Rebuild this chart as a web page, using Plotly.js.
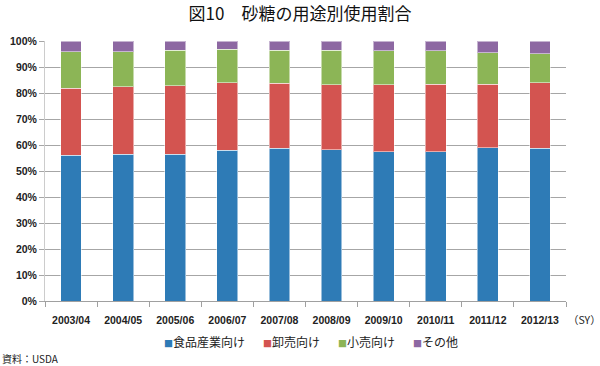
<!DOCTYPE html>
<html>
<head>
<meta charset="utf-8">
<script src="https://cdn.plot.ly/plotly-3.0.1.min.js"></script>
<style>html,body{margin:0;padding:0;background:#fff;}#chart{width:600px;height:366px;}</style>
</head>
<body>
<div id="chart"></div>
<script>
const categories = ["2003/04","2004/05","2005/06","2006/07","2007/08","2008/09","2009/10","2010/11","2011/12","2012/13"];
const seriesNames = ["食品産業向け","卸売向け","小売向け","その他"];
const food      = [56.0, 56.4, 56.4, 57.9, 58.7, 58.1, 57.4, 57.4, 59.0, 58.8];
const wholesale = [25.8, 26.0, 26.4, 26.1, 25.0, 25.0, 25.7, 25.9, 24.3, 25.2];
const retail    = [14.0, 13.4, 13.7, 12.9, 12.8, 13.3, 13.1, 13.0, 12.2, 11.1];
const other     = [4.2, 4.2, 3.5, 3.1, 3.5, 3.6, 3.8, 3.7, 4.5, 4.9];
const yTicks = [0,10,20,30,40,50,60,70,80,90,100];

const colors = ["#2e7bb6","#d35450","#8cb556","#8d68a2"];
const values = [food, wholesale, retail, other];
const jp = '"Noto Sans CJK JP", "Noto Sans", sans-serif';
const lat = '"Liberation Sans", Arial, sans-serif';

const traces = values.map((v,i)=>({
  type:'bar', x:categories, y:v, name:seriesNames[i],
  marker:{color:colors[i], line:{color:'rgba(255,255,255,0.5)', width:1}},
  hoverinfo:'y+name'
}));

const legendText = seriesNames.map((n,i)=>
  '<span style="color:'+colors[i]+';font-size:9px">■</span>'+n).join('\u3000\u2002');

const layout = {
  width:600, height:366,
  margin:{l:45, r:34, t:41, b:65},
  paper_bgcolor:'#fff', plot_bgcolor:'#fff',
  barmode:'stack', bargap:0.6,
  font:{family:jp, color:'#222'},
  title:{text:'図10　砂糖の用途別使用割合', font:{family:jp, size:17, color:'#111'}, x:0.5, xanchor:'center', y:0.962, yanchor:'middle'},
  xaxis:{
    type:'category', tickvals:categories, ticktext:categories,
    tickfont:{family:lat, size:10.5, color:'#222', weight:'bold'},
    ticks:'outside', tickson:'boundaries', ticklen:5, tickcolor:'#a0a0a0',
    ticklabelstandoff:9,
    showline:true, linecolor:'#a0a0a0', linewidth:1, showgrid:false, zeroline:false,
    fixedrange:true
  },
  yaxis:{
    range:[0,100], tickvals:yTicks, ticktext:yTicks.map(t=>t+'%'),
    tickfont:{family:lat, size:10.5, color:'#222', weight:'bold'},
    ticks:'outside', ticklen:5, tickcolor:'#a6a6a6',
    showgrid:true, gridcolor:'#a6a6a6', gridwidth:1,
    showline:true, linecolor:'#cccccc', linewidth:1, zeroline:false,
    fixedrange:true
  },
  showlegend:false,
  annotations:[
    {text:legendText, xref:'paper', yref:'paper', x:0.51, y:-0.155, xanchor:'center', yanchor:'middle', showarrow:false, font:{family:jp, size:12, color:'#222'}},
    {text:'（SY）', xref:'paper', yref:'paper', x:1.0, y:-0.072, xanchor:'left', yanchor:'middle', showarrow:false, font:{family:jp, size:10.5, color:'#222'}},
    {text:'資料：USDA', xref:'paper', yref:'paper', x:-45/521, y:-0.22, xanchor:'left', yanchor:'middle', showarrow:false, font:{family:jp, size:10, color:'#222'}}
  ]
};
Plotly.newPlot('chart', traces, layout, {displayModeBar:false, staticPlot:true});
</script>
</body>
</html>
